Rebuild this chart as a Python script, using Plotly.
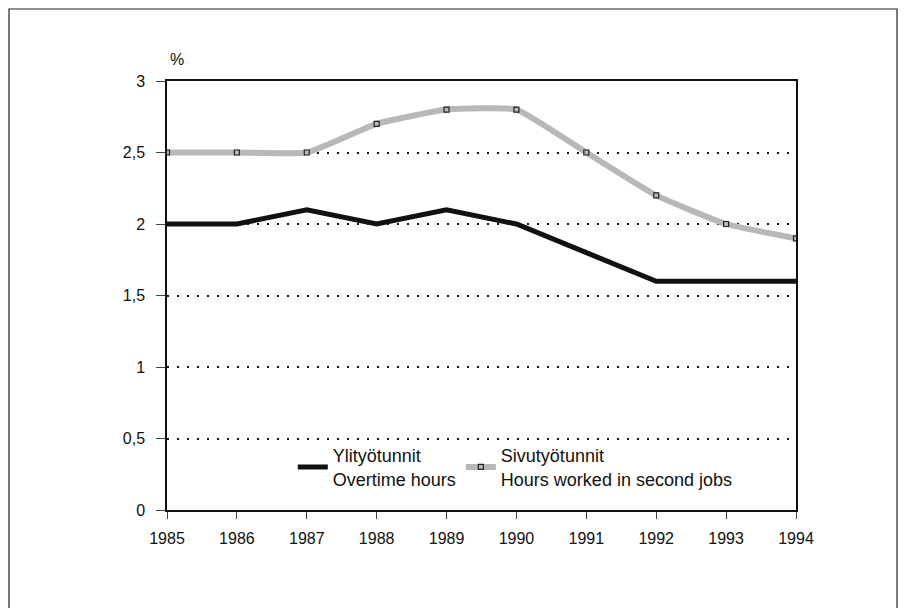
import plotly.graph_objects as go

years = [1985, 1986, 1987, 1988, 1989, 1990, 1991, 1992, 1993, 1994]
overtime = [2.0, 2.0, 2.1, 2.0, 2.1, 2.0, 1.8, 1.6, 1.6, 1.6]
second_jobs = [2.5, 2.5, 2.5, 2.7, 2.8, 2.8, 2.5, 2.2, 2.0, 1.9]
y_ticks = [0, 0.5, 1, 1.5, 2, 2.5, 3]
y_labels = ["0", "0,5", "1", "1,5", "2", "2,5", "3"]

fig = go.Figure()
fig.add_trace(go.Scatter(
    x=years, y=overtime, mode="lines",
    name="Ylityötunnit<br>Overtime hours",
    line=dict(color="#111111", width=5),
))
fig.add_trace(go.Scatter(
    x=years, y=second_jobs, mode="lines+markers",
    name="Sivutyötunnit<br>Hours worked in second jobs",
    line=dict(color="#b8b8b8", width=6, shape="spline", smoothing=0.4),
    marker=dict(symbol="square-open", size=5, color="#222222", line=dict(width=1.2)),
))

# page body has an 8px margin, so the figure is shifted by -8px here
fig.update_layout(
    width=910, height=608,
    paper_bgcolor="white", plot_bgcolor="white",
    margin=dict(l=159, r=122, t=73, b=106, autoexpand=False),
    font=dict(family="Liberation Sans, Arial, sans-serif", size=16, color="#111111"),
    showlegend=True,
    legend=dict(
        orientation="h", x=0.2, y=0.17, xanchor="left", yanchor="top",
        bgcolor="rgba(0,0,0,0)", font=dict(size=18), itemwidth=30,
        tracegroupgap=0,
    ),
    xaxis=dict(
        range=[1985, 1994], tickvals=years, ticks="outside", ticklen=7,
        ticklabelstandoff=6,
        showline=True, linecolor="#111111", linewidth=1.5, mirror=True,
        showgrid=False, zeroline=False, tickfont=dict(size=16),
    ),
    yaxis=dict(
        range=[0, 3], tickvals=y_ticks, ticktext=y_labels, ticks="outside", ticklen=9,
        ticklabelstandoff=8,
        showline=True, linecolor="#111111", linewidth=1.5, mirror=True,
        showgrid=True, gridcolor="#111111", gridwidth=1.6, griddash="2px,8px",
        zeroline=False, tickfont=dict(size=16),
    ),
    shapes=[dict(
        type="rect", xref="paper", yref="paper",
        x0=-0.2512, x1=1.1606, y0=-0.3, y1=1.1678,
        line=dict(color="#222222", width=1.2),
    )],
    annotations=[dict(
        text="%", xref="paper", yref="paper", x=0.016, y=1.051,
        showarrow=False, font=dict(size=16), xanchor="center", yanchor="middle",
    )],
)

fig.write_html("out.html")
